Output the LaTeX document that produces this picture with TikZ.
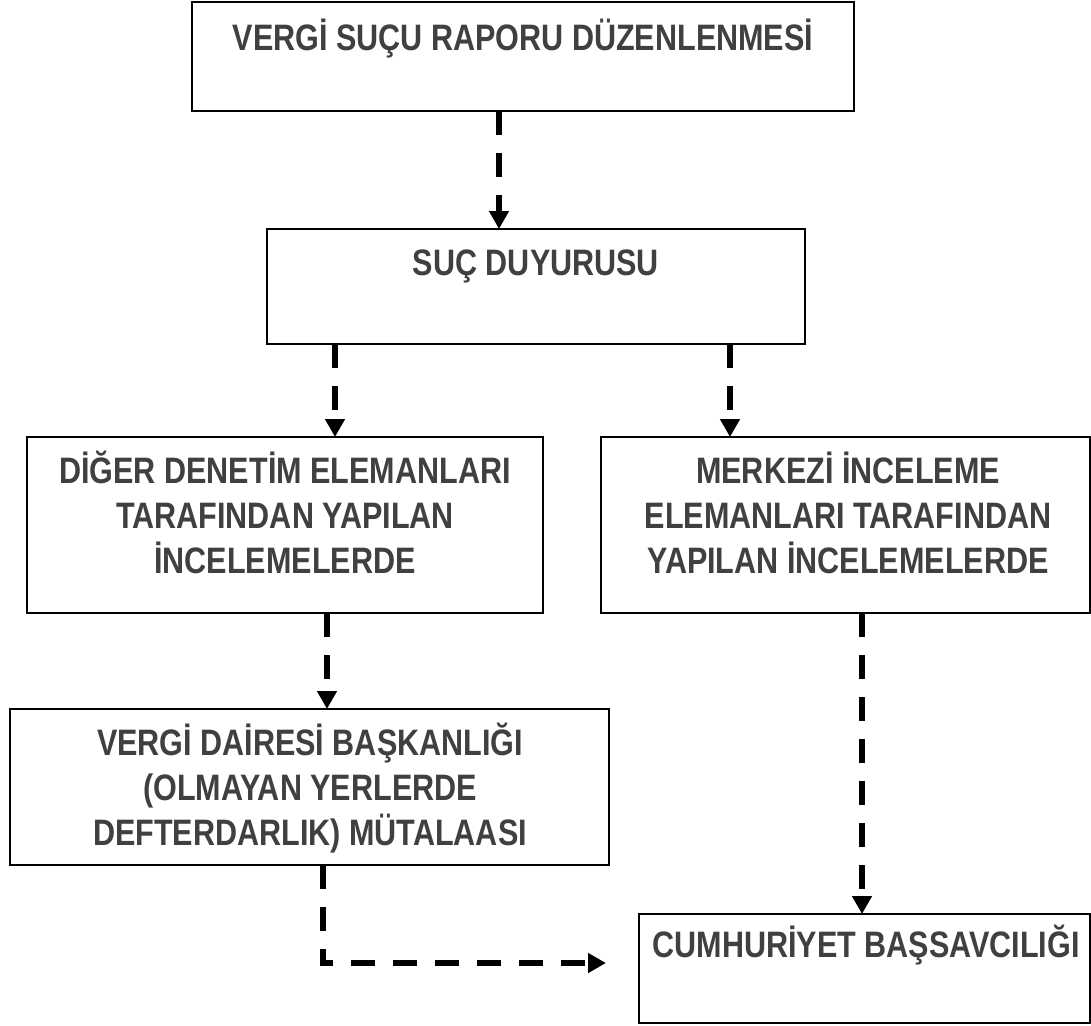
\documentclass[tikz,border=0pt]{standalone}
\usepackage{fontspec}
\setmainfont{Liberation Sans}[FakeStretch=0.83]
\usetikzlibrary{arrows.meta}
\definecolor{txtgray}{RGB}{64,64,64}
\begin{document}
\begin{tikzpicture}[x=0.5pt,y=-0.5pt,
  box/.style={draw=black, line width=1pt, fill=white, inner sep=0pt, outer sep=0pt},
  txt/.style={font=\bfseries\fontsize{18.4}{22.5}\selectfont, text=txtgray, align=center, inner sep=0pt, anchor=base},
  arr/.style={line width=3pt, dash pattern=on 12pt off 9pt, -{Triangle[length=9pt,width=9.5pt]}}]
\useasboundingbox (0,0) rectangle (1091,1025);
% boxes
\node[box, minimum width=331pt, minimum height=54.5pt] (b1) at (523,56.5) {};
\node[box, minimum width=269pt, minimum height=57.5pt] (b2) at (536,286.5) {};
\node[box, minimum width=258pt, minimum height=88pt] (b3) at (285,525) {};
\node[box, minimum width=244.5pt, minimum height=88pt] (b4) at (845.5,525) {};
\node[box, minimum width=299.5pt, minimum height=78pt] (b5) at (309.5,787) {};
\node[box, minimum width=225.5pt, minimum height=54.5pt] (b6) at (864.5,968.5) {};
% texts (base anchor = baseline of the last line)
\node[txt] (t1) at (523,50) {VERGİ SUÇU RAPORU DÜZENLENMESİ};
\node[txt] (t2) at (536,275) {SUÇ DUYURUSU};
\node[txt] (t3) at (285,573) {DİĞER DENETİM ELEMANLARI\\TARAFINDAN YAPILAN\\İNCELEMELERDE};
\node[txt] (t4) at (848,573) {MERKEZİ İNCELEME\\ELEMANLARI TARAFINDAN\\YAPILAN İNCELEMELERDE};
\node[txt] (t5) at (310,845) {VERGİ DAİRESİ BAŞKANLIĞI\\(OLMAYAN YERLERDE\\DEFTERDARLIK) MÜTALAASI};
\node[txt] (t6) at (866,957) {CUMHURİYET BAŞSAVCILIĞI};
% connectors
\coordinate (c1) at (499,0);
\coordinate (c2) at (335,0);
\coordinate (c3) at (730,0);
\coordinate (c4) at (327,0);
\coordinate (c5) at (862,0);
\coordinate (c6) at (323,963);
\coordinate (e6) at (606,963);
\draw[arr] (b1.south -| c1) -- (b2.north -| c1);
\draw[arr] (b2.south -| c2) -- (b3.north -| c2);
\draw[arr] (b2.south -| c3) -- (b4.north -| c3);
\draw[arr] (b3.south -| c4) -- (b5.north -| c4);
\draw[arr] (b4.south -| c5) -- (b6.north -| c5);
\draw[arr] (b5.south -| c6) -- (c6) -- (e6);
\end{tikzpicture}
\end{document}
